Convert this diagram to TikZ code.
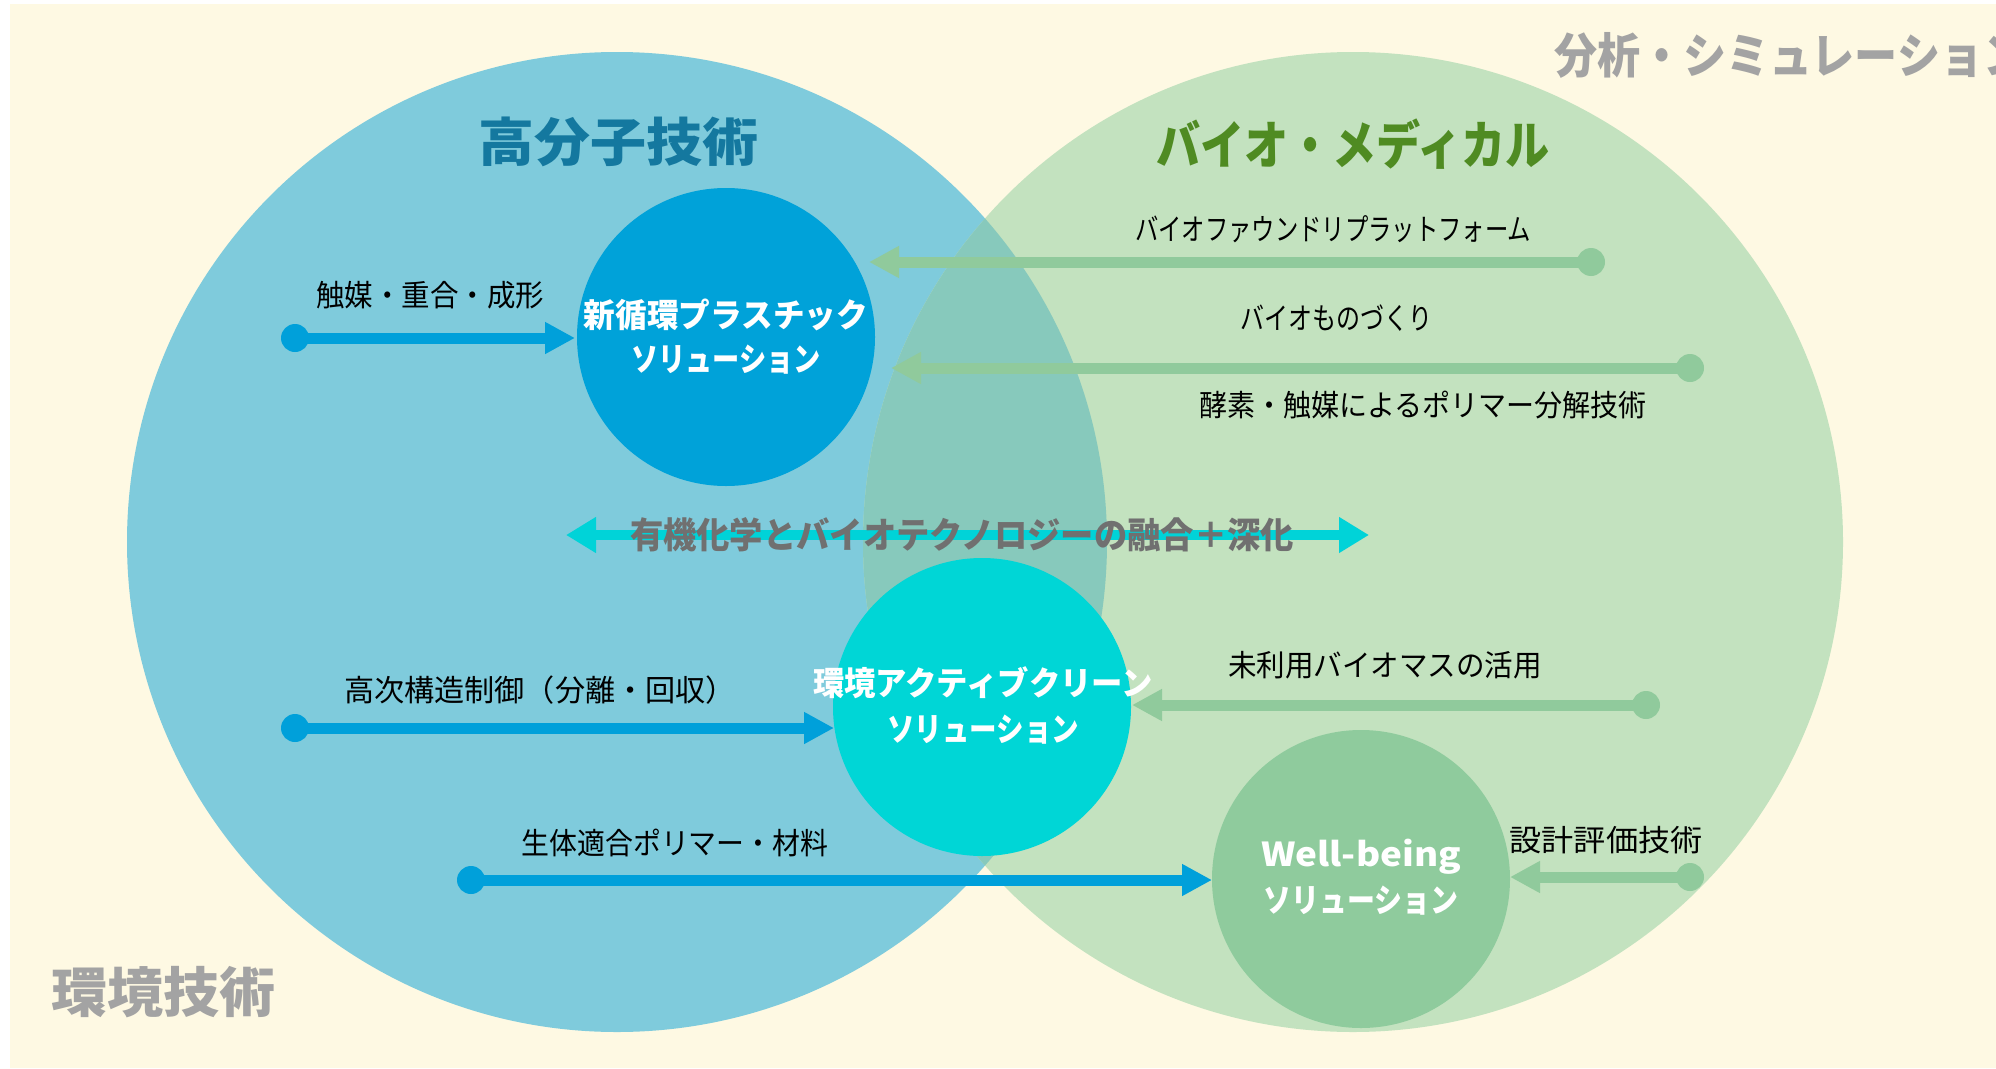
\documentclass[tikz,border=0pt]{standalone}
\usepackage{fontspec}
\setmainfont{Noto Sans CJK JP}
\usepackage{graphicx}
\usetikzlibrary{arrows.meta}
\definecolor{cream}{HTML}{FEF9E3}
\definecolor{bluebg}{HTML}{7FCBDC}
\definecolor{greenbg}{HTML}{C3E2BF}
\definecolor{overlapbg}{HTML}{87C9BC}
\definecolor{solblue}{HTML}{00A2D9}
\definecolor{solcyan}{HTML}{00D6D6}
\definecolor{solgreen}{HTML}{8FCB9D}
\definecolor{arrblue}{HTML}{00A0DA}
\definecolor{arrgreen}{HTML}{90CA9C}
\definecolor{arrcyan}{HTML}{00D3D8}
\definecolor{titleblue}{HTML}{14789F}
\definecolor{titlegreen}{HTML}{4F8B22}
\definecolor{midgray}{HTML}{707070}
\definecolor{lightgray}{HTML}{A3A3A3}
\newcommand\fitw[2]{\resizebox{#1}{\height}{#2}}
\begin{document}
\begin{tikzpicture}[x=1pt,y=-1pt,
  lbl/.style={font=\fontsize{30}{36}\selectfont, text=black, inner sep=0pt},
  ttl/.style={font=\bfseries\fontsize{52}{60}\selectfont, inner sep=0pt},
  soltxt/.style={font=\bfseries\fontsize{33}{40}\selectfont, text=white, inner sep=0pt},
  solcirc/.style={circle, fill=#1, minimum size=298pt, inner sep=0pt},
  dotnode/.style={circle, fill=#1, minimum size=28pt, inner sep=0pt},
  conn/.style={draw=#1, line width=11pt, -{Triangle[length=30pt,width=30pt]}},
  dconn/.style={draw=#1, line width=10pt, {Triangle[length=30pt,width=34pt]}-{Triangle[length=30pt,width=34pt]}}
]
\useasboundingbox (0,0) rectangle (1996,1068);
\fill[white] (0,0) rectangle (1996,1068);
\fill[cream] (10,4) rectangle (1996,1068);

% big circles
\fill[bluebg] (617,542) circle[radius=490];
\fill[greenbg] (1353,542) circle[radius=490];
\begin{scope}
  \clip (617,542) circle[radius=490];
  \fill[overlapbg] (1353,542) circle[radius=490];
\end{scope}

% solution circles
\node[solcirc=solblue] (s1) at (726,337) {};
\node[solcirc=solcyan] (s2) at (982,707) {};
\node[solcirc=solgreen] (s3) at (1361,879) {};

% centre double arrow
\coordinate (cl) at (566,535);
\coordinate (cr) at (1369,535);
\draw[dconn=arrcyan] (cl) -- (cr);

% blue arrows
\node[dotnode=arrblue] (d1) at (295,338) {};
\coordinate (t1) at (575,338);
\draw[conn=arrblue] (d1.center) -- (t1);
\node[dotnode=arrblue] (d2) at (295,728) {};
\coordinate (t2) at (834,728);
\draw[conn=arrblue] (d2.center) -- (t2);
\node[dotnode=arrblue] (d3) at (471,880) {};
\coordinate (t3) at (1212,880);
\draw[conn=arrblue] (d3.center) -- (t3);

% green arrows
\node[dotnode=arrgreen] (g1) at (1591,262) {};
\coordinate (u1) at (869,262);
\draw[conn=arrgreen] (g1.center) -- (u1);
\node[dotnode=arrgreen] (g2) at (1690,368) {};
\coordinate (u2) at (891,368);
\draw[conn=arrgreen] (g2.center) -- (u2);
\node[dotnode=arrgreen] (g3) at (1646,705) {};
\coordinate (u3) at (1132,705);
\draw[conn=arrgreen] (g3.center) -- (u3);
\node[dotnode=arrgreen] (g4) at (1690,877) {};
\coordinate (u4) at (1510,877);
\draw[conn=arrgreen] (g4.center) -- (u4);

% titles
\node[ttl, text=titleblue] (tt1) at (618,142) {\fitw{280pt}{高分子技術}};
\node[ttl, text=titlegreen] (tt2) at (1353,144) {\fitw{394pt}{バイオ・メディカル}};
\node[ttl, text=lightgray, anchor=west, font=\bfseries\fontsize{48}{56}\selectfont] (tt3) at (1554,55) {\fitw{472pt}{分析・シミュレーション}};
\node[ttl, text=lightgray, anchor=west, font=\bfseries\fontsize{54}{60}\selectfont] (tt4) at (51,992) {\fitw{224pt}{環境技術}};

% centre text
\node[inner sep=0pt, text=midgray, font=\bfseries\fontsize{36}{40}\selectfont] (ctext) at (962,535) {\fitw{664pt}{有機化学とバイオテクノロジーの融合＋深化}};

% solution texts
\node[soltxt] (s1a) at (726,315) {\fitw{284pt}{新循環プラスチック}};
\node[soltxt] (s1b) at (726,360) {\fitw{190pt}{ソリューション}};
\node[soltxt] (s2a) at (983,683) {\fitw{340pt}{環境アクティブクリーン}};
\node[soltxt] (s2b) at (983,730) {\fitw{192pt}{ソリューション}};
\node[soltxt] (s3a) at (1361,857) {\fitw{200pt}{Well-being}};
\node[soltxt] (s3b) at (1361,901) {\fitw{195pt}{ソリューション}};

% labels
\node[lbl] (l1) at (430,295) {\fitw{228pt}{触媒・重合・成形}};
\node[lbl] (l2) at (540,690) {\fitw{392pt}{高次構造制御（分離・回収）}};
\node[lbl] (l3) at (675,843) {\fitw{307pt}{生体適合ポリマー・材料}};
\node[lbl] (l4) at (1333,229) {\fitw{396pt}{バイオファウンドリプラットフォーム}};
\node[lbl] (l5) at (1336,318) {\fitw{192pt}{バイオものづくり}};
\node[lbl] (l6) at (1423,405) {\fitw{448pt}{酵素・触媒によるポリマー分解技術}};
\node[lbl] (l7) at (1385,665) {\fitw{314pt}{未利用バイオマスの活用}};
\node[lbl] (l8) at (1606,840) {\fitw{193pt}{設計評価技術}};
\end{tikzpicture}
\end{document}
